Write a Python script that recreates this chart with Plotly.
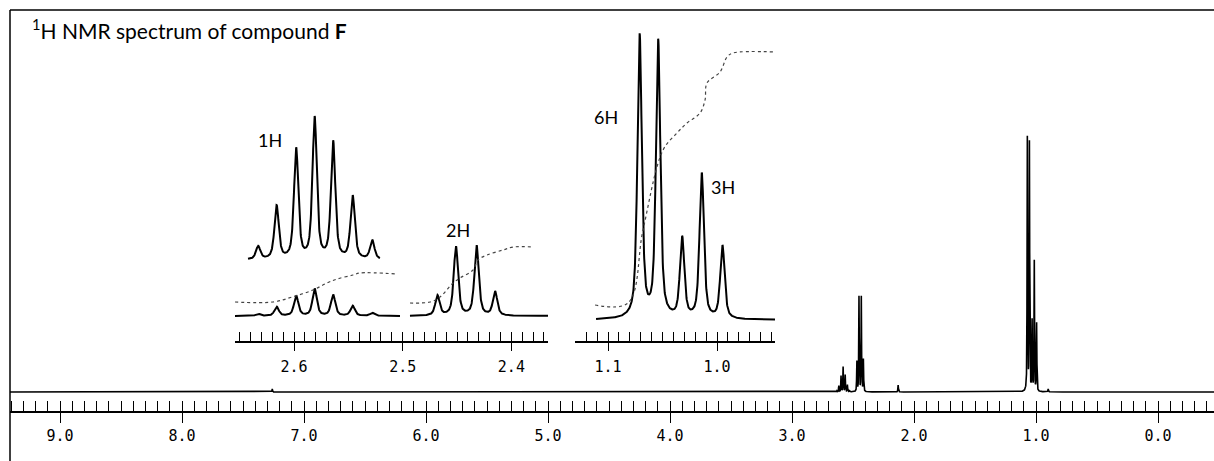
import numpy as np
import plotly.graph_objects as go

# ---------------- data ----------------
# peak positions (ppm) and heights (px above the local baseline)
heptet_ppm = [2.633, 2.616, 2.598, 2.581, 2.564, 2.546, 2.528]
heptet_zoom_height = [13, 53, 110, 141, 117, 63, 19]      # vertically expanded copy (1H)
heptet_inset_height = [2, 9, 20, 27, 21, 10, 3]
heptet_main_height = [1, 6, 16, 25, 17, 7, 1]

quartet_ppm = [2.468, 2.451, 2.432, 2.415]
quartet_inset_height = [20, 69, 70, 24]
quartet_main_height = [30, 95, 95, 32]

doublet_ppm = [1.071, 1.054]
doublet_inset_height = [283, 277]
doublet_main_height = [253, 248]

triplet_ppm = [1.032, 1.014, 0.995]
triplet_inset_height = [80, 145, 73]
triplet_main_height = [70, 130, 68]

minor_ppm = [7.26, 2.13, 0.90]
minor_main_height = [3, 7, 3]

# integral curves (ppm, height above baseline)
integral_a1_ppm = [2.6543, 2.6193, 2.6018, 2.5825, 2.5696, 2.5604, 2.5457, 2.5393, 2.5052]
integral_a1_val = [14, 14, 19, 26, 33, 37, 41, 43, 42]
integral_a2_ppm = [2.4933, 2.4749, 2.4657, 2.4537, 2.4473, 2.4353, 2.4307, 2.4224, 2.4077, 2.3982, 2.3798]
integral_a2_val = [13, 14, 19, 33, 38, 46, 56, 61, 66, 69, 69]
integral_b_ppm = [1.1119, 1.0817, 1.0679, 1.0495, 1.0367, 1.0275, 1.0156, 1.0110, 1.0092, 0.9972, 0.9908, 0.9853, 0.9468]
integral_b_val = [15, 17, 90, 170, 187, 197, 207, 220, 237, 248, 263, 267, 268]

# tick labels
main_tick_vals = [9, 8, 7, 6, 5, 4, 3, 2, 1, 0]
main_tick_text = ["9.0", "8.0", "7.0", "6.0", "5.0", "4.0", "3.0", "2.0", "1.0", "0.0"]
inset_a_tick_vals = [2.6, 2.5, 2.4]
inset_a_tick_text = ["2.6", "2.5", "2.4"]
inset_b_tick_vals = [1.1, 1.0]
inset_b_tick_text = ["1.1", "1.0"]

# ---------------- rendering helpers ----------------
W, H = 1214, 461
HW = 0.0024   # half width of lines (ppm)
ETA = 0.6     # lorentzian fraction


def lineshape(x, centers, heights, hw=HW, eta=ETA):
    y = np.zeros_like(x)
    for c, h in zip(centers, heights):
        d = (x - c) / hw
        y += h * (eta / (1 + d * d) + (1 - eta) * np.exp(-np.log(2) * d * d))
    return y


def grid(a, b, step=0.0002):
    n = int(abs(a - b) / step) + 1
    return np.linspace(a, b, n)


def py(p):
    return 1 - p / H


MONO = "DejaVu Sans Mono"
TXT = "Lato"

fig = go.Figure()

# main spectrum
main_centers = heptet_ppm + quartet_ppm + doublet_ppm + triplet_ppm + minor_ppm
main_heights = heptet_main_height + quartet_main_height + doublet_main_height + triplet_main_height + minor_main_height
xm = [np.linspace(9.41, -0.46, 3000)]
for c in main_centers:
    xm.append(grid(c + 0.02, c - 0.02))
xm = np.unique(np.concatenate(xm))[::-1]
ym = lineshape(xm, main_centers, main_heights)
fig.add_trace(go.Scatter(x=xm, y=ym, mode="lines", line=dict(color="black", width=1.6),
                         xaxis="x", yaxis="y", hoverinfo="skip"))

# inset A: heptet (normal) + quartet + expanded heptet
xa1 = grid(2.6543, 2.5025)
fig.add_trace(go.Scatter(x=xa1, y=lineshape(xa1, heptet_ppm, heptet_inset_height), mode="lines",
                         line=dict(color="black", width=2), xaxis="x2", yaxis="y2", hoverinfo="skip"))
xa2 = grid(2.4933, 2.3663)
fig.add_trace(go.Scatter(x=xa2, y=lineshape(xa2, quartet_ppm, quartet_inset_height), mode="lines",
                         line=dict(color="black", width=2), xaxis="x2", yaxis="y2", hoverinfo="skip"))
xa3 = grid(2.6423, 2.5209)
fig.add_trace(go.Scatter(x=xa3, y=56 + lineshape(xa3, heptet_ppm, heptet_zoom_height), mode="lines",
                         line=dict(color="black", width=2), xaxis="x2", yaxis="y2", hoverinfo="skip"))
fig.add_trace(go.Scatter(x=integral_a1_ppm, y=integral_a1_val, mode="lines",
                         line=dict(color="#444", width=1.2, dash="dot", shape="spline"),
                         xaxis="x2", yaxis="y2", hoverinfo="skip"))
fig.add_trace(go.Scatter(x=integral_a2_ppm, y=integral_a2_val, mode="lines",
                         line=dict(color="#444", width=1.2, dash="dot", shape="spline"),
                         xaxis="x2", yaxis="y2", hoverinfo="skip"))

# inset B: doublet + triplet
xb = grid(1.111, 0.9468)
fig.add_trace(go.Scatter(x=xb, y=lineshape(xb, doublet_ppm + triplet_ppm,
                                           doublet_inset_height + triplet_inset_height),
                         mode="lines", line=dict(color="black", width=2),
                         xaxis="x3", yaxis="y3", hoverinfo="skip"))
fig.add_trace(go.Scatter(x=integral_b_ppm, y=integral_b_val, mode="lines",
                         line=dict(color="#444", width=1.2, dash="dot", shape="spline"),
                         xaxis="x3", yaxis="y3", hoverinfo="skip"))

# dummy traces so the overlay tick axes exist
for xa, ya in (("x4", "y"), ("x5", "y2"), ("x6", "y3")):
    fig.add_trace(go.Scatter(x=[None], y=[None], xaxis=xa, yaxis=ya, showlegend=False, hoverinfo="skip"))

main_range = [9.4098, -0.4590]
a_range = [2.6543, 2.3663]
b_range = [1.1303, 0.9468]
main_dom = [10 / W, 1]
a_dom = [235 / W, 548 / W]
b_dom = [575 / W, 775 / W]

common = dict(showgrid=False, zeroline=False, autorange=False, tickcolor="black", tickwidth=1.3)

fig.update_layout(
    width=W, height=H, margin=dict(l=0, r=0, t=0, b=0),
    paper_bgcolor="white", plot_bgcolor="rgba(0,0,0,0)", showlegend=False,
    xaxis=dict(domain=main_dom, range=main_range, anchor="y", showline=True, linecolor="black",
               linewidth=1.5, ticks="outside", ticklen=10, tickvals=main_tick_vals,
               ticktext=main_tick_text, tickfont=dict(family=MONO, size=15, color="black"), **common),
    xaxis4=dict(domain=main_dom, range=main_range, anchor="y", overlaying="x", ticks="inside",
                ticklen=10, tick0=0, dtick=0.1, showticklabels=False, showline=False, **common),
    yaxis=dict(domain=[py(411), py(10)], range=[-19, 382], anchor="x", visible=False, autorange=False),
    xaxis2=dict(domain=a_dom, range=a_range, anchor="y2", showline=True, linecolor="black",
                linewidth=1.5, ticks="outside", ticklen=8, tickvals=inset_a_tick_vals,
                ticktext=inset_a_tick_text, ticklabelstandoff=3,
                tickfont=dict(family=MONO, size=15, color="black"), **common),
    xaxis5=dict(domain=a_dom, range=a_range, anchor="y2", overlaying="x2", ticks="inside",
                ticklen=9, tick0=0, dtick=0.01, showticklabels=False, showline=False, **common),
    yaxis2=dict(domain=[py(341), py(100)], range=[-25, 216], anchor="x2", visible=False, autorange=False),
    xaxis3=dict(domain=b_dom, range=b_range, anchor="y3", showline=True, linecolor="black",
                linewidth=1.5, ticks="outside", ticklen=8, tickvals=inset_b_tick_vals,
                ticktext=inset_b_tick_text, ticklabelstandoff=3,
                tickfont=dict(family=MONO, size=15, color="black"), **common),
    xaxis6=dict(domain=b_dom, range=b_range, anchor="y3", overlaying="x3", ticks="inside",
                ticklen=9, tick0=0, dtick=0.01, showticklabels=False, showline=False, **common),
    yaxis3=dict(domain=[py(341), py(20)], range=[-21, 300], anchor="x3", visible=False, autorange=False),
)

# frame
fig.add_shape(type="line", xref="paper", yref="paper", x0=10 / W, x1=1, y0=py(10), y1=py(10),
              line=dict(color="black", width=1.5))
fig.add_shape(type="line", xref="paper", yref="paper", x0=10 / W, x1=10 / W, y0=py(10), y1=0,
              line=dict(color="black", width=1.5))

# texts
fig.add_annotation(x=30 / W, y=py(29), xref="paper", yref="paper", xanchor="left", yanchor="middle",
                   text="<sup>1</sup>H NMR spectrum of compound <b>F</b>", showarrow=False,
                   font=dict(family=TXT, size=21, color="black"))
for t, xp, yp in (("1H", 270, 140), ("2H", 458, 230), ("6H", 606, 117), ("3H", 723, 187)):
    fig.add_annotation(x=xp / W, y=py(yp), xref="paper", yref="paper", xanchor="center", yanchor="middle",
                       text=t, showarrow=False, font=dict(family=TXT, size=18, color="black"))

fig.write_html("out.html", config={"displayModeBar": False},
               post_script="document.body.style.margin='0';")
